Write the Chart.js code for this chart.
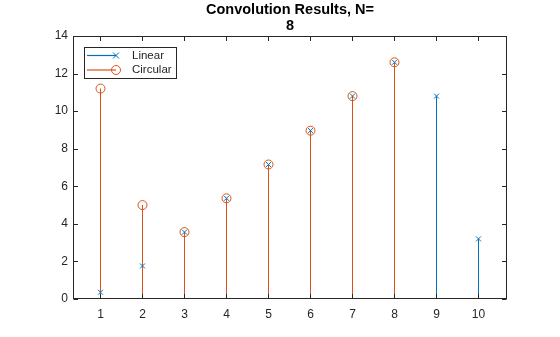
<!DOCTYPE html>
<html>
<head>
<meta charset="utf-8">
<script src="https://cdn.jsdelivr.net/npm/chart.js@4"></script>
<style>
  html, body { margin: 0; padding: 0; background: #fff; }
  #wrap { width: 560px; height: 337px; }
</style>
</head>
<body>
<div id="wrap"><canvas id="chart"></canvas></div>
<script>
const titleLines = ['Convolution Results, N=', '8'];
const seriesNames = ['Linear', 'Circular'];
const linearX = [1, 2, 3, 4, 5, 6, 7, 8, 9, 10];
const linearY = [0.36, 1.76, 3.56, 5.36, 7.16, 8.96, 10.8, 12.6, 10.8, 3.2];
const circularX = [1, 2, 3, 4, 5, 6, 7, 8];
const circularY = [11.2, 5.0, 3.56, 5.36, 7.16, 8.96, 10.8, 12.6];
const xTicks = [1, 2, 3, 4, 5, 6, 7, 8, 9, 10];
const yTicks = [0, 2, 4, 6, 8, 10, 12, 14];

const BLUE = '#0072BD';
const ORANGE = '#D95319';
const AXIS = '#262626';
const FONT = "'Liberation Sans', Arial, Helvetica, sans-serif";

// limits picked so one x unit is a whole 42 px and stems sit on pixel centres
const X_MIN = 1 - 27.5 / 42;
const X_MAX = 10 + 28.5 / 42;

Chart.defaults.font.family = FONT;
Chart.defaults.color = AXIS;

const toPoints = (xs, ys) => xs.map((x, i) => ({ x, y: ys[i] }));

// axes box, inward ticks on all sides, title and legend, MATLAB style
const matlabAxes = {
    id: 'matlabAxes',
    afterDatasetsDraw(chart) {
        const { ctx, chartArea: a, scales } = chart;
        const tl = 4.5;
        ctx.save();
        ctx.strokeStyle = AXIS;
        ctx.lineWidth = 1;
        const L = Math.round(a.left) + 0.5, R = Math.round(a.right) - 0.5;
        const T = Math.round(a.top) + 0.5, B = Math.round(a.bottom) - 0.5;
        ctx.strokeRect(L, T, R - L, B - T);

        ctx.beginPath();
        xTicks.forEach((v) => {
            const px = Math.floor(scales.x.getPixelForValue(v)) + 0.5;
            ctx.moveTo(px, B); ctx.lineTo(px, B - tl);
            ctx.moveTo(px, T); ctx.lineTo(px, T + tl);
        });
        yTicks.forEach((v) => {
            const py = Math.round(scales.y.getPixelForValue(v)) + 0.5;
            ctx.moveTo(L, py); ctx.lineTo(L + tl, py);
            ctx.moveTo(R, py); ctx.lineTo(R - tl, py);
        });
        ctx.stroke();

        // title
        ctx.fillStyle = 'rgb(0,0,0)';
        ctx.font = 'bold 14.5px ' + FONT;
        ctx.textAlign = 'center';
        ctx.textBaseline = 'alphabetic';
        const cx = (a.left + a.right) / 2;
        ctx.fillText(titleLines[0], cx, 14);
        ctx.fillText(titleLines[1], cx, 29.5);

        // legend
        const bx = 84.5, by = 47.5, bw = 92, bh = 31;
        ctx.fillStyle = '#fff';
        ctx.fillRect(bx, by, bw, bh);
        ctx.strokeStyle = AXIS;
        ctx.strokeRect(bx, by, bw, bh);
        const rows = [
            { name: seriesNames[0], color: BLUE, y: 55.5, marker: 'x' },
            { name: seriesNames[1], color: ORANGE, y: 70, marker: 'o' },
        ];
        rows.forEach((r) => {
            ctx.strokeStyle = r.color;
            ctx.lineWidth = 1.2;
            ctx.beginPath();
            ctx.moveTo(87, r.y); ctx.lineTo(116, r.y);
            ctx.stroke();
            ctx.lineWidth = 1;
            ctx.beginPath();
            if (r.marker === 'x') {
                const d = 3;
                ctx.moveTo(116 - d, r.y - d); ctx.lineTo(116 + d, r.y + d);
                ctx.moveTo(116 - d, r.y + d); ctx.lineTo(116 + d, r.y - d);
            } else {
                ctx.arc(116, r.y, 4.5, 0, Math.PI * 2);
            }
            ctx.stroke();
            ctx.fillStyle = AXIS;
            ctx.font = '11.5px ' + FONT;
            ctx.textAlign = 'left';
            ctx.textBaseline = 'middle';
            ctx.fillText(r.name, 132, r.y);
        });
        ctx.restore();
    },
};

new Chart(document.getElementById('chart'), {
    type: 'bar',
    data: {
        datasets: [
            {
                label: seriesNames[0] + ' stems',
                data: toPoints(linearX, linearY),
                backgroundColor: BLUE,
                order: 4,
            },
            {
                label: seriesNames[1] + ' stems',
                data: toPoints(circularX, circularY),
                backgroundColor: ORANGE,
                order: 3,
            },
            {
                type: 'scatter',
                label: seriesNames[0],
                data: toPoints(linearX, linearY),
                pointStyle: 'crossRot',
                pointRadius: 3.5,
                borderColor: BLUE,
                backgroundColor: BLUE,
                borderWidth: 1,
                order: 2,
            },
            {
                type: 'scatter',
                label: seriesNames[1],
                data: toPoints(circularX, circularY),
                pointStyle: 'circle',
                pointRadius: 4.5,
                borderColor: ORANGE,
                backgroundColor: 'rgba(0,0,0,0)',
                borderWidth: 1,
                order: 1,
            },
        ],
    },
    options: {
        responsive: true,
        maintainAspectRatio: false,
        animation: false,
        datasets: {
            bar: { grouped: false, barThickness: 1, borderWidth: 0, inflateAmount: 0 },
        },
        layout: { padding: { left: 0, right: 53, top: 36, bottom: 0 } },
        plugins: {
            legend: { display: false },
            title: { display: false },
            tooltip: { enabled: false },
        },
        scales: {
            x: {
                type: 'linear',
                min: X_MIN,
                max: X_MAX,
                offset: false,
                grid: { display: false, drawTicks: false },
                border: { display: false },
                ticks: { padding: 8, font: { size: 12 }, color: AXIS, maxRotation: 0, autoSkip: false },
                afterBuildTicks: (s) => { s.ticks = xTicks.map((v) => ({ value: v })); },
                afterFit: (s) => { s.height = 38; },
            },
            y: {
                type: 'linear',
                min: 0,
                max: 14,
                grid: { display: false, drawTicks: false },
                border: { display: false },
                ticks: { padding: 5, font: { size: 12 }, color: AXIS, autoSkip: false },
                afterBuildTicks: (s) => { s.ticks = yTicks.map((v) => ({ value: v })); },
                afterFit: (s) => { s.width = 73; },
            },
        },
    },
    plugins: [matlabAxes],
});
</script>
</body>
</html>
